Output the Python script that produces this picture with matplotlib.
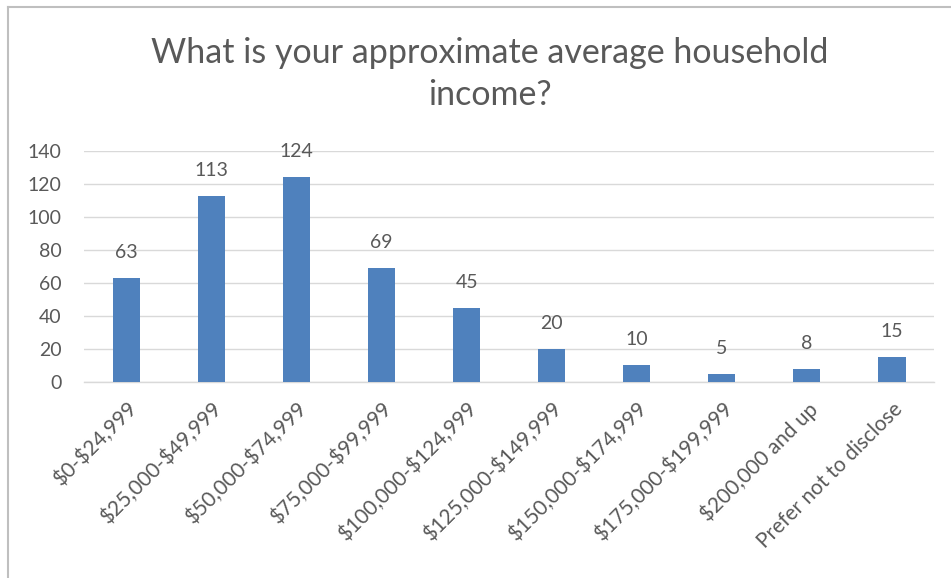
import matplotlib
matplotlib.use("Agg")
import matplotlib.pyplot as plt
from matplotlib.lines import Line2D

categories = ["$0-$24,999", "$25,000-$49,999", "$50,000-$74,999", "$75,000-$99,999",
              "$100,000-$124,999", "$125,000-$149,999", "$150,000-$174,999",
              "$175,000-$199,999", "$200,000 and up", "Prefer not to disclose"]
values = [63, 113, 124, 69, 45, 20, 10, 5, 8, 15]
yticks = [0, 20, 40, 60, 80, 100, 120, 140]
title = "What is your approximate average household\nincome?"

FONT = ["Lato", "DejaVu Sans"]
plt.rcParams['font.family'] = FONT
plt.rcParams['text.parse_math'] = False
TXT = "#595959"
BAR = "#4F81BD"

fig = plt.figure(figsize=(9.51, 5.78), dpi=100)
ax = fig.add_axes([0.0883, 0.3391, 0.8943, 0.3997])

x = list(range(len(categories)))
ax.bar(x, values, width=0.32, color=BAR, zorder=3)
ax.set_xlim(-0.5, len(categories) - 0.5)
ax.set_ylim(0, 140)
ax.set_yticks(yticks)
ax.yaxis.grid(True, color="#D9D9D9", linewidth=1.0, zorder=0)
ax.set_axisbelow(True)
for s in ["top", "right", "left"]:
    ax.spines[s].set_visible(False)
ax.spines["bottom"].set_color("#D9D9D9")
ax.spines["bottom"].set_linewidth(1.0)
ax.tick_params(axis="both", length=0, colors=TXT)
ax.tick_params(axis="y", pad=16, labelsize=14)
ax.set_xticks(x)
ax.set_xticklabels(categories, rotation=45, ha="right", rotation_mode="anchor",
                   color=TXT, fontsize=15)
ax.tick_params(axis="x", pad=12)

for xi, v in zip(x, values):
    ax.annotate(str(v), (xi, v), xytext=(0, 14.4), textcoords="offset points",
                ha="center", va="baseline", color=TXT, fontsize=14)

fig.text(0.515, 0.872, title, ha="center", va="center", color=TXT,
         fontsize=24.5, linespacing=1.38)

fig.add_artist(Line2D([8/951, 8/951], [0, 1 - 7/578], transform=fig.transFigure,
                      color="#BFBFBF", linewidth=1.5))
fig.add_artist(Line2D([8/951, 1], [1 - 7/578, 1 - 7/578], transform=fig.transFigure,
                      color="#BFBFBF", linewidth=1.5))

fig.savefig("out.png", dpi=100)
